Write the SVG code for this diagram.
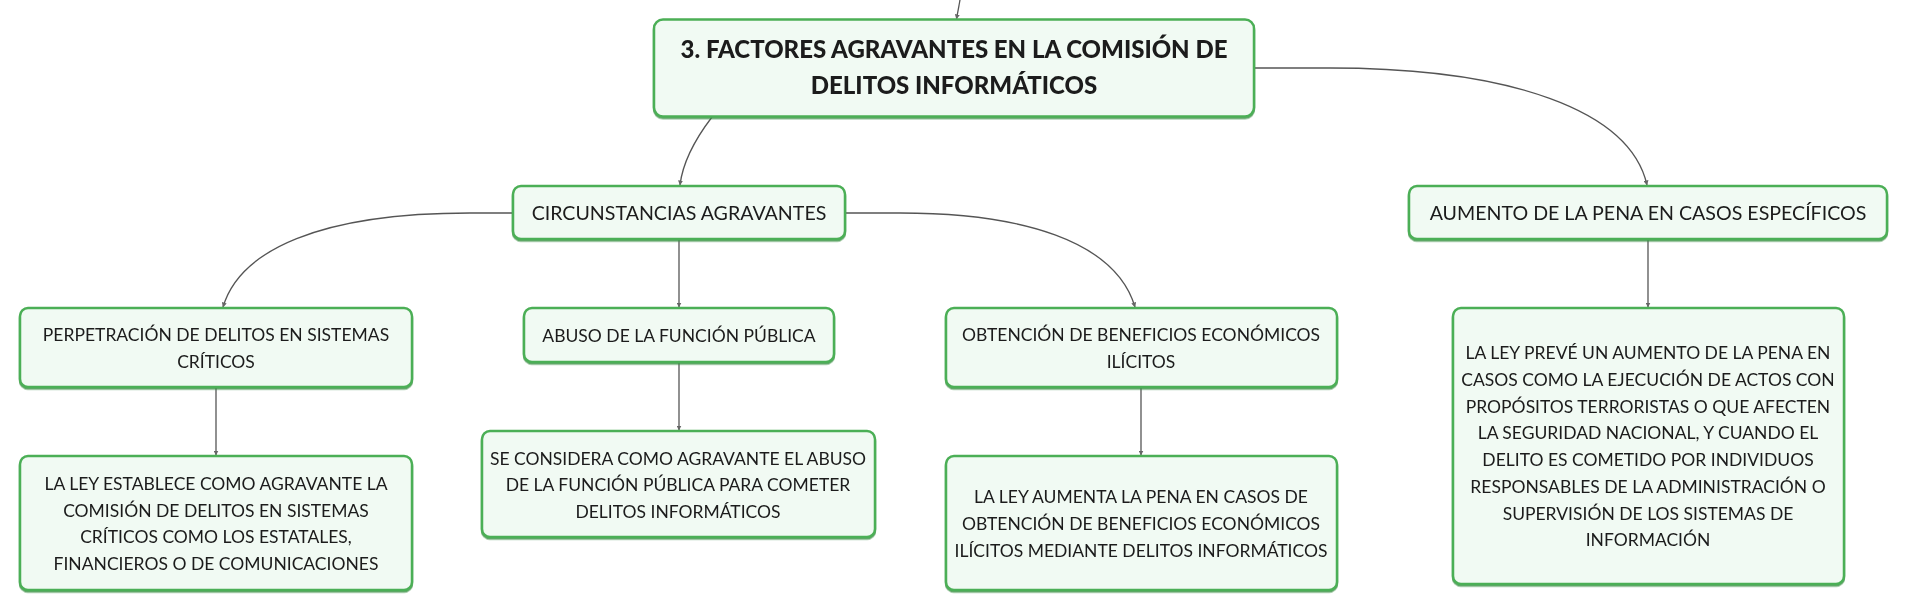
<svg xmlns="http://www.w3.org/2000/svg" width="1908" height="612" viewBox="0 0 1908 612">
<defs>
<marker id="arr" viewBox="0 0 10 10" refX="9" refY="5" markerWidth="5" markerHeight="5" orient="auto" markerUnits="userSpaceOnUse">
<path d="M0,0 L10,5 L0,10 z" fill="#666"/>
</marker>
<filter id="sh" x="-5%" y="-5%" width="110%" height="120%">
<feDropShadow dx="0" dy="1.5" stdDeviation="0.6" flood-color="#3a8f45" flood-opacity="0.8"/>
</filter>
</defs>
<style>
.box{fill:#f1faf3;stroke:#4caf56;stroke-width:2.5;}
.t{font-family:Lato,"Open Sans","Liberation Sans",sans-serif;fill:#1a1a1a;text-anchor:middle;}
.t0{font-size:24px;font-weight:900;}
.t1{font-size:19.6px;}
.t2{font-size:17.5px;}
.c{fill:none;stroke:#555;stroke-width:1.3;marker-end:url(#arr);}
</style>
<rect width="1908" height="612" fill="#ffffff"/>
<g id="connectors">
<path class="c" d="M960,0 L956.5,19"/>
<path class="c" d="M712,117 C696,138 683,160 680,185"/>
<path class="c" d="M1254,68 L1330,68 C1510,68 1630,110 1647,185"/>
<path class="c" d="M513,213 L470,213 C320,213 240,250 223,307"/>
<path class="c" d="M845,213 L900,213 C1020,213 1115,240 1135,307"/>
<path class="c" d="M679,239 L679,307"/>
<path class="c" d="M1648,239 L1648,307"/>
<path class="c" d="M216,387 L216,455"/>
<path class="c" d="M679,362 L679,430"/>
<path class="c" d="M1141,387 L1141,455"/>
</g>
<g id="n-main" filter="url(#sh)">
<rect class="box" x="654" y="19.5" width="600" height="97" rx="9"/>
<text class="t t0" x="954" y="57.5">3. FACTORES AGRAVANTES EN LA COMISIÓN DE</text>
<text class="t t0" x="954" y="93.5">DELITOS INFORMÁTICOS</text>
</g>
<g id="n-circ" filter="url(#sh)">
<rect class="box" x="513" y="186" width="332" height="53" rx="8"/>
<text class="t t1" x="679" y="220">CIRCUNSTANCIAS AGRAVANTES</text>
</g>
<g id="n-aumento" filter="url(#sh)">
<rect class="box" x="1409" y="186" width="478" height="53" rx="8"/>
<text class="t t1" x="1648" y="220">AUMENTO DE LA PENA EN CASOS ESPECÍFICOS</text>
</g>
<g id="n-perp" filter="url(#sh)">
<rect class="box" x="20" y="308" width="392" height="79" rx="8"/>
<text class="t t2" x="216" y="340.5">PERPETRACIÓN DE DELITOS EN SISTEMAS</text>
<text class="t t2" x="216" y="368">CRÍTICOS</text>
</g>
<g id="n-abuso" filter="url(#sh)">
<rect class="box" x="524" y="308" width="310" height="54" rx="8"/>
<text class="t t2" x="679" y="341.5">ABUSO DE LA FUNCIÓN PÚBLICA</text>
</g>
<g id="n-obt" filter="url(#sh)">
<rect class="box" x="946" y="308" width="391" height="79" rx="8"/>
<text class="t t2" x="1141" y="340.5">OBTENCIÓN DE BENEFICIOS ECONÓMICOS</text>
<text class="t t2" x="1141" y="368">ILÍCITOS</text>
</g>
<g id="n-ley-establece" filter="url(#sh)">
<rect class="box" x="20" y="456" width="392" height="134" rx="8"/>
<text class="t t2" x="216" y="489.5">LA LEY ESTABLECE COMO AGRAVANTE LA</text>
<text class="t t2" x="216" y="516.5">COMISIÓN DE DELITOS EN SISTEMAS</text>
<text class="t t2" x="216" y="543">CRÍTICOS COMO LOS ESTATALES,</text>
<text class="t t2" x="216" y="569.5">FINANCIEROS O DE COMUNICACIONES</text>
</g>
<g id="n-se-considera" filter="url(#sh)">
<rect class="box" x="482" y="431" width="393" height="106" rx="8"/>
<text class="t t2" x="678" y="464.5">SE CONSIDERA COMO AGRAVANTE EL ABUSO</text>
<text class="t t2" x="678" y="491">DE LA FUNCIÓN PÚBLICA PARA COMETER</text>
<text class="t t2" x="678" y="517.5">DELITOS INFORMÁTICOS</text>
</g>
<g id="n-ley-aumenta" filter="url(#sh)">
<rect class="box" x="946" y="456" width="391" height="134" rx="8"/>
<text class="t t2" x="1141" y="503">LA LEY AUMENTA LA PENA EN CASOS DE</text>
<text class="t t2" x="1141" y="530">OBTENCIÓN DE BENEFICIOS ECONÓMICOS</text>
<text class="t t2" x="1141" y="557">ILÍCITOS MEDIANTE DELITOS INFORMÁTICOS</text>
</g>
<g id="n-ley-preve" filter="url(#sh)">
<rect class="box" x="1453" y="308" width="391" height="276" rx="8"/>
<text class="t t2" x="1648" y="359">LA LEY PREVÉ UN AUMENTO DE LA PENA EN</text>
<text class="t t2" x="1648" y="386">CASOS COMO LA EJECUCIÓN DE ACTOS CON</text>
<text class="t t2" x="1648" y="412.5">PROPÓSITOS TERRORISTAS O QUE AFECTEN</text>
<text class="t t2" x="1648" y="439">LA SEGURIDAD NACIONAL, Y CUANDO EL</text>
<text class="t t2" x="1648" y="466">DELITO ES COMETIDO POR INDIVIDUOS</text>
<text class="t t2" x="1648" y="493">RESPONSABLES DE LA ADMINISTRACIÓN O</text>
<text class="t t2" x="1648" y="519.5">SUPERVISIÓN DE LOS SISTEMAS DE</text>
<text class="t t2" x="1648" y="546">INFORMACIÓN</text>
</g>
</svg>
